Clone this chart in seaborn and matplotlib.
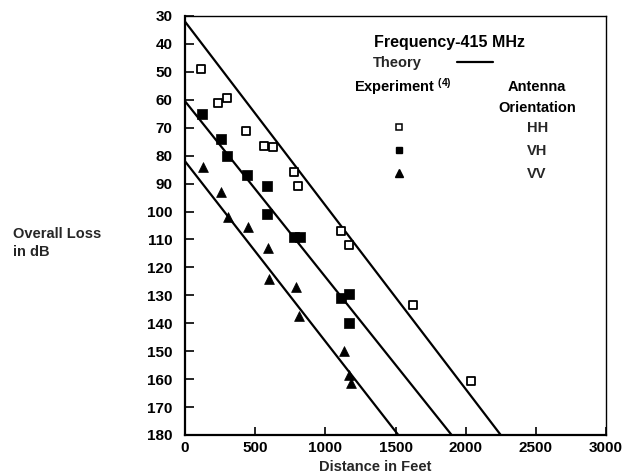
import matplotlib
matplotlib.use("Agg")
import matplotlib.pyplot as plt
from matplotlib.lines import Line2D
import pandas as pd
import seaborn as sns

# ---- data ----
hh_ft = [115, 238, 298, 433, 566, 626, 778, 802, 1112, 1171, 1623, 2035]
hh_db = [49, 61, 59.5, 71, 76.5, 77, 86, 91, 107, 112, 133.5, 160.5]

vh_ft = [119, 255, 298, 440, 583, 583, 774, 821, 1112, 1171, 1166]
vh_db = [65, 74, 80, 87, 91, 101, 109, 109, 131, 129.5, 140]

vv_ft = [131, 255, 305, 448, 588, 602, 790, 809, 1131, 1171, 1183]
vv_db = [84, 93, 102, 105.5, 113, 124, 127, 137.5, 150, 158.5, 161.5]

theory_orient = ["HH", "HH", "VH", "VH", "VV", "VV"]
theory_ft = [0, 2250, 0, 1900, 0, 1520]
theory_db = [32, 180, 60.5, 180, 82, 180]

x_ticks = [0, 500, 1000, 1500, 2000, 2500, 3000]
y_ticks = list(range(30, 181, 10))

sns.set_style("ticks")
plt.rcParams["font.family"] = ["Liberation Sans", "DejaVu Sans"]
plt.rcParams["mathtext.default"] = "regular"

W, H = 624, 474
fig = plt.figure(figsize=(6.24, 4.74), dpi=100)
fig.patch.set_facecolor("white")


def fx(x):
    return x / W


def fy(y):
    return 1 - y / H


ax = fig.add_axes([fx(185), fy(435), (606 - 185) / W, (435 - 16) / H])
ax.set_facecolor("white")

theory = pd.DataFrame({"orient": theory_orient, "ft": theory_ft, "db": theory_db})
sns.lineplot(data=theory, x="ft", y="db", units="orient", estimator=None,
             color="black", lw=1.6, ax=ax, legend=False, sort=False)

sns.scatterplot(x=hh_ft, y=hh_db, marker="s", s=38, facecolor="white",
                edgecolor="black", linewidth=1.3, ax=ax, zorder=3)
sns.scatterplot(x=vh_ft, y=vh_db, marker="s", s=42, color="black",
                edgecolor="black", linewidth=0.5, ax=ax, zorder=3)
sns.scatterplot(x=vv_ft, y=vv_db, marker="^", s=50, color="black",
                edgecolor="black", linewidth=0.5, ax=ax, zorder=3)

ax.set_xlim(0, 3000)
ax.set_ylim(180, 30)
ax.set_xticks(x_ticks)
ax.set_yticks(y_ticks)
ax.set_xticklabels([str(v) for v in x_ticks])
ax.set_yticklabels([str(v) for v in y_ticks])

ax.tick_params(axis="y", direction="in", length=6.5, width=1.2, pad=9,
               labelsize=11, labelcolor="black", color="black")
ax.tick_params(axis="x", direction="in", length=6, width=1.2, pad=4,
               labelsize=11, labelcolor="black", color="black")
for lab in ax.get_xticklabels() + ax.get_yticklabels():
    lab.set_fontweight("bold")

for side in ["left", "bottom"]:
    ax.spines[side].set_linewidth(1.6)
    ax.spines[side].set_color("black")
for side in ["top", "right"]:
    ax.spines[side].set_linewidth(1.0)
    ax.spines[side].set_color("black")
    ax.spines[side].set_visible(True)

ax.set_xlabel("Distance in Feet", fontsize=10.5, fontweight="bold", va="center")
ax.xaxis.set_label_coords((375 - 185) / 421, (435 - 467) / 419)
ax.set_ylabel("Overall Loss\nin dB", fontsize=10.5, fontweight="bold",
              rotation=0, ha="left", va="center", linespacing=1.45)
ax.yaxis.set_label_coords((13 - 185) / 421, (435 - 243) / 419)

tkw = dict(fontsize=10.5, fontweight="bold", color="black")
fig.text(fx(449), fy(43), "Frequency-415 MHz", ha="center", va="center",
         fontsize=11.5, fontweight="bold", color="black")
fig.text(fx(354), fy(87), "Experiment $^{(4)}$", ha="left", va="center", **tkw)
fig.text(fx(537), fy(87), "Antenna", ha="center", va="center", **tkw)
fig.text(fx(537), fy(108), "Orientation", ha="center", va="center", **tkw)

theory_handle = Line2D([], [], color="black", lw=1.6)
leg1 = fig.legend([theory_handle], ["Theory"], loc="center left",
                  bbox_to_anchor=(fx(373), fy(63)), markerfirst=False,
                  frameon=False, handlelength=2.5, handletextpad=2.4,
                  borderpad=0, borderaxespad=0,
                  prop={"size": 10.5, "weight": "bold"})

h_hh = Line2D([], [], ls="", marker="s", ms=4.5, mfc="white", mec="black", mew=1.1)
h_vh = Line2D([], [], ls="", marker="s", ms=4.8, mfc="black", mec="black")
h_vv = Line2D([], [], ls="", marker="^", ms=5.2, mfc="black", mec="black")
leg2 = fig.legend([h_hh, h_vh, h_vv], ["HH", "VH", "VV"], loc="upper left",
                  bbox_to_anchor=(fx(384), fy(121)), frameon=False,
                  handlelength=2.0, handletextpad=7.8, labelspacing=0.62,
                  borderpad=0, borderaxespad=0,
                  prop={"size": 10.5, "weight": "bold"})

fig.savefig("out.png", dpi=100, facecolor="white")
